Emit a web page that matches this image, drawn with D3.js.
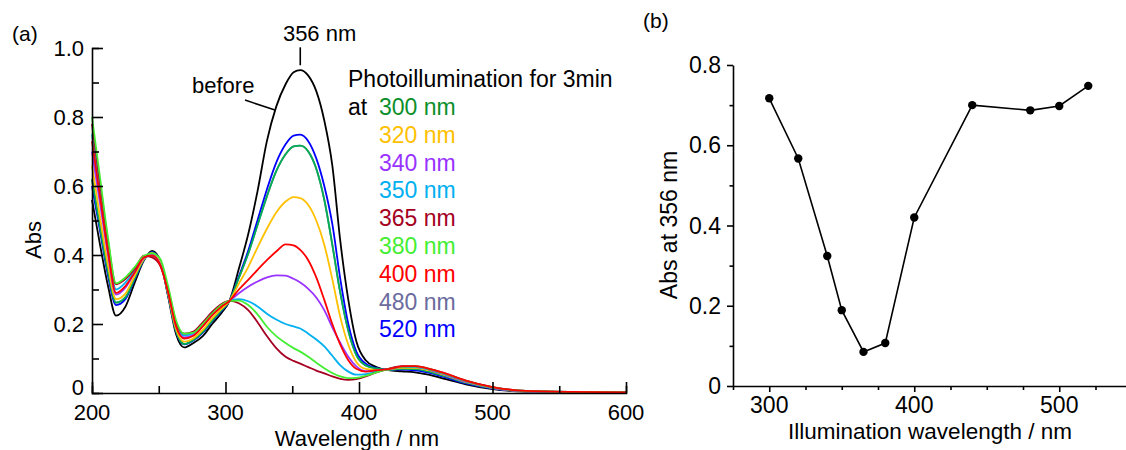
<!DOCTYPE html>
<html>
<head>
<meta charset="utf-8">
<script src="https://cdn.jsdelivr.net/npm/d3@7"></script>
<style>
  body { margin: 0; background: #fff; }
  text { font-family: "Liberation Sans", Arial, sans-serif; fill: #000; }
</style>
</head>
<body>
<div id="container"></div>
<script>
// ---- data: panel (a) spectra ----
let wavelengths = [200, 206, 212, 218, 225, 232, 239, 245, 251, 257, 263, 269, 276, 283, 290, 297, 303, 310, 317, 324, 331, 338, 345, 351, 356, 362, 368, 374, 380, 386, 392, 398, 405, 413, 422, 432, 442, 452, 465, 480, 500, 525, 560, 600];

let absBefore = [0.56, 0.43, 0.31, 0.224, 0.25, 0.32, 0.385, 0.412, 0.385, 0.28, 0.17, 0.132, 0.145, 0.165, 0.20, 0.232, 0.267, 0.36, 0.46, 0.585, 0.73, 0.83, 0.895, 0.93, 0.936, 0.92, 0.875, 0.79, 0.66, 0.44, 0.27, 0.15, 0.095, 0.075, 0.066, 0.063, 0.060, 0.053, 0.040, 0.025, 0.011, 0.004, 0.002, 0.001];
let abs300 = [0.62, 0.48, 0.35, 0.262, 0.277, 0.333, 0.388, 0.407, 0.381, 0.285, 0.179, 0.142, 0.154, 0.177, 0.21, 0.24, 0.267, 0.334, 0.404, 0.487, 0.57, 0.643, 0.692, 0.715, 0.717, 0.70, 0.65, 0.56, 0.43, 0.29, 0.18, 0.11, 0.08, 0.071, 0.067, 0.070, 0.069, 0.062, 0.048, 0.030, 0.014, 0.005, 0.002, 0.001];
let abs320 = [0.66, 0.51, 0.37, 0.272, 0.288, 0.34, 0.389, 0.405, 0.379, 0.289, 0.185, 0.149, 0.159, 0.183, 0.216, 0.244, 0.267, 0.317, 0.365, 0.422, 0.476, 0.523, 0.555, 0.568, 0.565, 0.545, 0.50, 0.43, 0.33, 0.22, 0.14, 0.09, 0.07, 0.067, 0.068, 0.073, 0.073, 0.066, 0.051, 0.032, 0.015, 0.005, 0.003, 0.002];
let abs340 = [0.70, 0.55, 0.40, 0.285, 0.305, 0.349, 0.392, 0.400, 0.374, 0.294, 0.195, 0.161, 0.169, 0.195, 0.227, 0.252, 0.267, 0.289, 0.308, 0.323, 0.335, 0.341, 0.340, 0.331, 0.320, 0.302, 0.277, 0.24, 0.19, 0.145, 0.105, 0.077, 0.063, 0.065, 0.069, 0.075, 0.075, 0.068, 0.052, 0.033, 0.015, 0.005, 0.003, 0.002];
let abs350 = [0.75, 0.59, 0.43, 0.30, 0.32, 0.355, 0.394, 0.397, 0.372, 0.298, 0.201, 0.167, 0.174, 0.201, 0.231, 0.255, 0.267, 0.272, 0.266, 0.251, 0.230, 0.213, 0.200, 0.193, 0.187, 0.172, 0.155, 0.135, 0.108, 0.08, 0.062, 0.053, 0.055, 0.062, 0.0695, 0.076, 0.076, 0.069, 0.054, 0.035, 0.016, 0.006, 0.003, 0.002];
let abs365 = [0.78, 0.61, 0.44, 0.315, 0.33, 0.36, 0.398, 0.393, 0.37, 0.30, 0.205, 0.172, 0.178, 0.205, 0.235, 0.258, 0.267, 0.26, 0.24, 0.205, 0.165, 0.13, 0.105, 0.093, 0.085, 0.075, 0.065, 0.057, 0.048, 0.041, 0.038, 0.040, 0.048, 0.060, 0.070, 0.078, 0.078, 0.071, 0.056, 0.036, 0.017, 0.006, 0.003, 0.002];
let abs380 = [0.80, 0.625, 0.45, 0.318, 0.335, 0.365, 0.398, 0.405, 0.39, 0.31, 0.21, 0.172, 0.175, 0.2, 0.23, 0.255, 0.267, 0.268, 0.255, 0.228, 0.192, 0.165, 0.145, 0.13, 0.12, 0.105, 0.088, 0.072, 0.058, 0.048, 0.043, 0.044, 0.05, 0.060, 0.069, 0.076, 0.077, 0.070, 0.055, 0.035, 0.016, 0.006, 0.003, 0.002];
let abs400 = [0.73, 0.57, 0.41, 0.29, 0.31, 0.35, 0.393, 0.398, 0.372, 0.292, 0.193, 0.158, 0.166, 0.193, 0.225, 0.25, 0.267, 0.30, 0.328, 0.357, 0.385, 0.41, 0.431, 0.428, 0.415, 0.385, 0.335, 0.27, 0.20, 0.14, 0.095, 0.07, 0.062, 0.066, 0.069, 0.077, 0.078, 0.071, 0.056, 0.036, 0.017, 0.006, 0.003, 0.002];
// 480 nm trace sits under the 300 nm one in the picture
let abs480 = [0.62, 0.48, 0.35, 0.262, 0.277, 0.333, 0.388, 0.407, 0.381, 0.285, 0.179, 0.142, 0.154, 0.177, 0.21, 0.24, 0.267, 0.334, 0.404, 0.487, 0.57, 0.643, 0.692, 0.715, 0.717, 0.70, 0.65, 0.56, 0.43, 0.29, 0.18, 0.11, 0.08, 0.071, 0.067, 0.070, 0.069, 0.062, 0.048, 0.030, 0.014, 0.005, 0.002, 0.001];
let abs520 = [0.60, 0.47, 0.34, 0.255, 0.272, 0.33, 0.387, 0.408, 0.382, 0.284, 0.178, 0.141, 0.152, 0.175, 0.208, 0.238, 0.267, 0.338, 0.412, 0.501, 0.59, 0.668, 0.721, 0.746, 0.749, 0.73, 0.68, 0.60, 0.49, 0.33, 0.20, 0.12, 0.085, 0.072, 0.067, 0.068, 0.066, 0.059, 0.045, 0.028, 0.013, 0.005, 0.002, 0.001];

let legendLabels = ['300 nm', '320 nm', '340 nm', '350 nm', '365 nm', '380 nm', '400 nm', '480 nm', '520 nm'];
let legendColors = ['#0c8f2a', '#ffc000', '#9933ff', '#00b0f0', '#a50021', '#44ee33', '#ff0000', '#6b6b9e', '#0000ff'];

// ---- data: panel (b) ----
let illumWl = [300, 320, 340, 350, 365, 380, 400, 440, 480, 500, 520];
let abs356 = [0.717, 0.567, 0.324, 0.189, 0.085, 0.107, 0.420, 0.700, 0.687, 0.698, 0.748];

let xTicksA = [200, 300, 400, 500, 600];
let yTicksA = [0, 0.2, 0.4, 0.6, 0.8, 1.0];
let xTicksB = [300, 400, 500];
let yTicksB = [0, 0.2, 0.4, 0.6, 0.8];

let w = 1126;
let h = 450;
let fs = '22px';

let svg = d3.select('#container')
  .append('svg')
    .attr('width', w)
    .attr('height', h)
    .style('background-color', '#fff');

// ================= panel (a) =================
let xA = d3.scaleLinear().domain([200, 600]).range([92, 626]);
let yA = d3.scaleLinear().domain([0, 1.0]).range([393, 48]);

let gA = svg.append('g');

// curves: black first, red last (on top)
let series = [
  { v: absBefore, c: '#000000' },
  { v: abs480, c: '#6b6b9e' },
  { v: abs520, c: '#0000ff' },
  { v: abs300, c: '#00b050' },
  { v: abs320, c: '#ffc000' },
  { v: abs340, c: '#9933ff' },
  { v: abs350, c: '#00b0f0' },
  { v: abs365, c: '#a50021' },
  { v: abs380, c: '#44ee33' },
  { v: abs400, c: '#ff0000' }
];

let lineA = d3.line()
  .x((d, i) => xA(wavelengths[i]))
  .y(d => yA(d))
  .curve(d3.curveMonotoneX);

gA.selectAll('.spec').data(series)
  .enter()
  .append('path')
    .attr('class', 'spec')
    .attr('d', d => lineA(d.v))
    .attr('fill', 'none')
    .attr('stroke', d => d.c)
    .attr('stroke-width', 1.8);

// axes (ticks point inward)
let axisA_x = gA.append('g')
  .attr('transform', 'translate(0,' + yA(0) + ')')
  .call(d3.axisBottom(xA).tickValues(d3.range(200, 601, 50)).tickSize(-7).tickFormat(''));
axisA_x.selectAll('.tick line').filter(d => d % 100 == 0).attr('y2', -11);

let axisA_y = gA.append('g')
  .attr('transform', 'translate(' + xA(200) + ',0)')
  .call(d3.axisLeft(yA).tickValues(d3.range(0, 1.01, 0.1)).tickSize(-7).tickFormat(''));
axisA_y.selectAll('.tick line').filter((d, i) => i % 2 == 0).attr('x2', 11);

[axisA_x, axisA_y].forEach(a => {
  a.select('.domain').attr('stroke-width', 1.6);
  a.selectAll('.tick line').attr('stroke-width', 1.6);
});

gA.selectAll('.xlabA').data(xTicksA)
  .enter().append('text')
    .attr('x', d => xA(d))
    .attr('y', 420)
    .attr('text-anchor', 'middle')
    .style('font-size', fs)
    .text(d => d);

// "0" sits a little higher than the rest, as in the original
gA.selectAll('.ylabA').data(yTicksA)
  .enter().append('text')
    .attr('x', 84)
    .attr('y', d => yA(d) + (d == 0 ? 2 : 8))
    .attr('text-anchor', 'end')
    .style('font-size', fs)
    .text(d => d == 0 ? '0' : d.toFixed(1));

gA.append('text')
  .attr('x', 357)
  .attr('y', 446)
  .attr('text-anchor', 'middle')
  .style('font-size', fs)
  .text('Wavelength / nm');

gA.append('text')
  .attr('transform', 'translate(41,240) rotate(-90)')
  .attr('text-anchor', 'middle')
  .style('font-size', fs)
  .text('Abs');

gA.append('text')
  .attr('x', 12)
  .attr('y', 41)
  .style('font-size', '21px')
  .text('(a)');

// annotations
gA.append('line')
  .attr('x1', xA(356)).attr('x2', xA(356))
  .attr('y1', yA(0.95)).attr('y2', yA(1.002))
  .attr('stroke', '#000').attr('stroke-width', 1.6);
gA.append('text')
  .attr('x', xA(343))
  .attr('y', 41)
  .style('font-size', fs)
  .text('356 nm');

gA.append('line')
  .attr('x1', xA(314.6)).attr('y1', yA(0.849))
  .attr('x2', xA(337)).attr('y2', yA(0.82))
  .attr('stroke', '#000').attr('stroke-width', 1.6);
gA.append('text')
  .attr('x', 192)
  .attr('y', 93)
  .style('font-size', fs)
  .text('before');

// legend
gA.append('text')
  .attr('x', 348)
  .attr('y', 87)
  .style('font-size', '23px')
  .text('Photoillumination for 3min');
gA.append('text')
  .attr('x', 348)
  .attr('y', 115)
  .style('font-size', '23px')
  .text('at');
gA.selectAll('.leg').data(legendLabels)
  .enter().append('text')
    .attr('x', 379)
    .attr('y', (d, i) => 115 + i * 27.8)
    .style('font-size', '23px')
    .style('fill', (d, i) => legendColors[i])
    .text(d => d);

// ================= panel (b) =================
let xB = d3.scaleLinear().domain([275, 550]).range([733, 1131.75]);
let yB = d3.scaleLinear().domain([0, 0.8]).range([386, 65]);

let gB = svg.append('g');

let axisB_x = gB.append('g')
  .attr('transform', 'translate(0,' + yB(0) + ')')
  .call(d3.axisBottom(xB).tickValues(d3.range(275, 551, 25)).tickSize(4).tickFormat('').tickSizeOuter(0));
axisB_x.selectAll('.tick line').filter(d => d % 100 == 0).attr('y2', 6);

let axisB_y = gB.append('g')
  .attr('transform', 'translate(' + xB(275) + ',0)')
  .call(d3.axisLeft(yB).tickValues(d3.range(0, 0.81, 0.1)).tickSize(3.5).tickFormat('').tickSizeOuter(0));
axisB_y.selectAll('.tick line').filter((d, i) => i % 2 == 0).attr('x2', -6);

[axisB_x, axisB_y].forEach(a => {
  a.select('.domain').attr('stroke-width', 1.6);
  a.selectAll('.tick line').attr('stroke-width', 1.6);
});

gB.selectAll('.xlabB').data(xTicksB)
  .enter().append('text')
    .attr('x', d => xB(d))
    .attr('y', 413)
    .attr('text-anchor', 'middle')
    .style('font-size', '23px')
    .text(d => d);

gB.selectAll('.ylabB').data(yTicksB)
  .enter().append('text')
    .attr('x', 721)
    .attr('y', d => yB(d) + 8)
    .attr('text-anchor', 'end')
    .style('font-size', '23px')
    .text(d => d == 0 ? '0' : d.toFixed(1));

gB.append('text')
  .attr('x', 930)
  .attr('y', 439)
  .attr('text-anchor', 'middle')
  .style('font-size', '22.5px')
  .text('Illumination wavelength / nm');

gB.append('text')
  .attr('transform', 'translate(677,225) rotate(-90)')
  .attr('text-anchor', 'middle')
  .style('font-size', '23px')
  .text('Abs at 356 nm');

gB.append('text')
  .attr('x', 643)
  .attr('y', 28)
  .style('font-size', '21px')
  .text('(b)');

let lineB = d3.line()
  .x((d, i) => xB(illumWl[i]))
  .y(d => yB(d));

gB.append('path')
  .attr('d', lineB(abs356))
  .attr('fill', 'none')
  .attr('stroke', '#000')
  .attr('stroke-width', 1.6);

gB.selectAll('.dot').data(abs356)
  .enter().append('circle')
    .attr('cx', (d, i) => xB(illumWl[i]))
    .attr('cy', d => yB(d))
    .attr('r', 4.2)
    .attr('fill', '#000');
</script>
</body>
</html>
